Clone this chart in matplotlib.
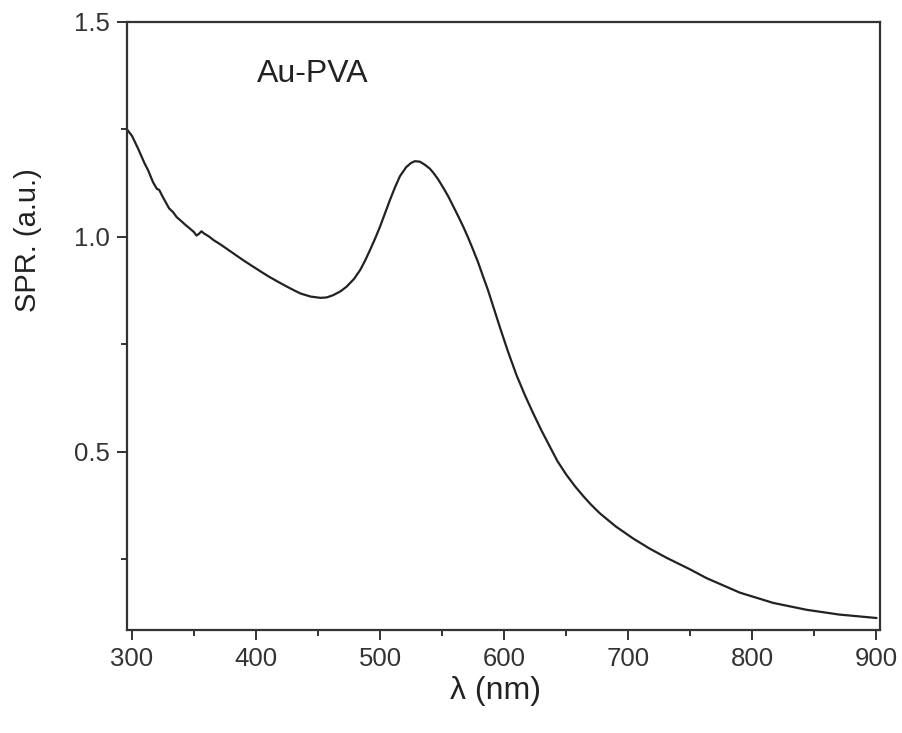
import numpy as np
import matplotlib
matplotlib.use('Agg')
import matplotlib.pyplot as plt
from matplotlib.ticker import MultipleLocator

plt.rcParams['font.family'] = ['Liberation Sans', 'DejaVu Sans']

# spectrum
wavelength = [296, 300, 305, 310, 313, 317, 320, 322, 325, 330, 333, 336, 340, 343, 346,
              350, 352, 354, 356, 358, 362, 366, 371, 380, 390, 398, 410, 418, 425, 431,
              436, 444, 452, 457, 462, 468, 473, 479, 484, 488, 492, 496, 500, 504, 508,
              512, 516, 521, 525, 528, 532, 536, 540, 543, 547, 551, 555, 559, 563, 567,
              571, 575, 579, 583, 587, 590, 594, 597, 603, 610, 617, 623, 630, 637, 643,
              650, 657, 664, 670, 677, 690, 704, 717, 731, 750, 763, 790, 817, 844, 870, 900]
spr = [1.25, 1.235, 1.205, 1.172, 1.155, 1.127, 1.112, 1.109, 1.092, 1.066, 1.058, 1.046,
       1.036, 1.028, 1.021, 1.011, 1.003, 1.007, 1.013, 1.008, 1.001, 0.992, 0.983, 0.965,
       0.945, 0.930, 0.908, 0.895, 0.884, 0.875, 0.868, 0.861, 0.858, 0.859, 0.864, 0.873,
       0.884, 0.902, 0.923, 0.945, 0.970, 0.996, 1.024, 1.055, 1.086, 1.115, 1.141, 1.162,
       1.172, 1.176, 1.175, 1.168, 1.159, 1.149, 1.133, 1.114, 1.094, 1.071, 1.048, 1.024,
       0.998, 0.970, 0.941, 0.908, 0.876, 0.849, 0.813, 0.786, 0.734, 0.678, 0.630, 0.592,
       0.550, 0.511, 0.478, 0.447, 0.420, 0.396, 0.377, 0.357, 0.326, 0.298, 0.275, 0.253,
       0.226, 0.206, 0.172, 0.148, 0.132, 0.121, 0.113]

fig = plt.figure(figsize=(9.02, 7.33), dpi=100)
ax = fig.add_axes([0.1408, 0.1405, 0.8348, 0.8295])

ax.plot(wavelength, spr, color='#222222', lw=1.6)

ax.set_xlim(296, 903)
ax.set_ylim(0.085, 1.5)
ax.xaxis.set_major_locator(MultipleLocator(100))
ax.xaxis.set_minor_locator(MultipleLocator(50))
ax.yaxis.set_major_locator(MultipleLocator(0.5))
ax.yaxis.set_minor_locator(MultipleLocator(0.25))

for s in ax.spines.values():
    s.set_linewidth(1.6)
    s.set_color('#333333')
ax.tick_params(which='major', direction='out', length=7, width=1.4, labelsize=18.5,
               colors='#333333', labelcolor='#333333', pad=5)
ax.tick_params(which='minor', direction='out', length=4, width=1.4, colors='#333333')

ax.text(401, 1.378, 'Au-PVA', fontsize=23, color='#222222', ha='left', va='center')

ax.set_xlabel('λ (nm)', fontsize=23, color='#222222')
ax.set_ylabel('SPR. (a.u.)', fontsize=21, color='#222222')
ax.yaxis.set_label_coords(-0.113, 0.641)
ax.xaxis.set_label_coords(0.49, -0.076)

fig.savefig('out.png', dpi=100)
